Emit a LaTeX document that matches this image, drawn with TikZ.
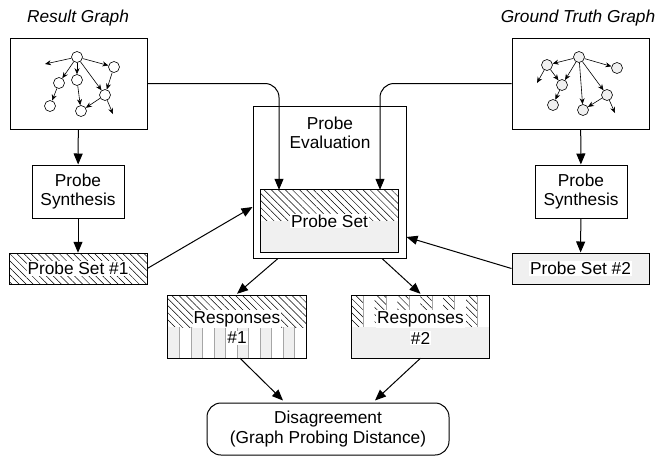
\documentclass[tikz,border=0pt]{standalone}
\usepackage{fontspec}
\setmainfont{Liberation Sans}
\usetikzlibrary{arrows.meta,patterns.meta}
\begin{document}
\begin{tikzpicture}[x=1pt,y=-1pt,
  font=\fontsize{17.3}{19.5}\selectfont,
  box/.style={draw, line width=1pt, inner sep=0pt, align=center},
  arr/.style={line width=1pt, -{Triangle[length=11pt,width=9pt]}},
  hatch/.style={pattern={Lines[angle=-45,distance=5pt,line width=0.5pt]}},
  lightfill/.style={fill=gray!12},
  lbl/.style={fill=white, inner sep=1pt, align=center},
  gnode/.style={circle, draw, line width=0.6pt, minimum size=11pt, inner sep=0pt},
  gnodeg/.style={gnode, fill=gray!12},
  gedge/.style={line width=0.6pt, -{Stealth[length=6pt,width=5pt]}},
  title/.style={font=\fontsize{17.3}{19.5}\selectfont\itshape},
]
\useasboundingbox (0,0) rectangle (661,456);

% titles
\node[title] (t1) at (78,18) {Result Graph};
\node[title] (t2) at (578,18) {Ground Truth Graph};

% graph boxes
\node[box, minimum width=137pt, minimum height=91pt] (lg) at (78.5,83.5) {};
\node[box, minimum width=137pt, minimum height=91pt] (rg) at (580.5,83.5) {};

% left graph
\node[gnode] (l0) at (77,57) {};
\node[gnode] (lA) at (114,67) {};
\node[gnode] (lB) at (59,83) {};
\node[gnode] (lC) at (77,80) {};
\node[gnode] (lD) at (105,95) {};
\node[gnode] (lE) at (50,106) {};
\node[gnode] (lF) at (81,111) {};
\coordinate (lf1) at (45,64);
\coordinate (lf2) at (113,114);
\draw[gedge] (l0) -- (lf1);
\draw[gedge] (l0) -- (lA);
\draw[gedge] (l0) -- (lB);
\draw[gedge] (l0) -- (lC);
\draw[gedge] (l0) -- (lD);
\draw[gedge] (lA) -- (lD);
\draw[gedge] (lB) -- (lE);
\draw[gedge] (lC) -- (lF);
\draw[gedge] (lD) -- (lF);
\draw[gedge] (lD) -- (lf2);

% right graph
\node[gnodeg] (r0) at (579,57) {};
\node[gnodeg] (rA) at (547,65) {};
\node[gnodeg] (rB) at (617,68) {};
\node[gnodeg] (rC) at (562,85) {};
\node[gnodeg] (rD) at (607,95) {};
\node[gnodeg] (rE) at (553,105) {};
\node[gnodeg] (rF) at (583,110) {};
\coordinate (rf1) at (537,83);
\coordinate (rf2) at (615,113);
\draw[gedge] (r0) -- (rA);
\draw[gedge] (r0) -- (rB);
\draw[gedge] (r0) -- (rC);
\draw[gedge] (r0) -- (rF);
\draw[gedge] (r0) -- (rD);
\draw[gedge] (rA) -- (rC);
\draw[gedge] (rA) -- (rf1);
\draw[gedge] (rC) -- (rE);
\draw[gedge] (rD) -- (rF);
\draw[gedge] (rD) -- (rf2);

% probe synthesis
\node[box, minimum width=92pt, minimum height=53pt] (ls) at (78,191.5) {Probe\\Synthesis};
\node[box, minimum width=92pt, minimum height=53pt] (rs) at (581,191.5) {Probe\\Synthesis};

% probe sets 1 and 2
\node[box, hatch, minimum width=138pt, minimum height=31pt] (ps1) at (78,268.5) {};
\node[lbl] at (ps1.center) {Probe Set \#1};
\node[box, lightfill, minimum width=137pt, minimum height=31pt] (ps2) at (580.5,268.5) {};
\node[lbl] at (ps2.center) {Probe Set \#2};

% probe evaluation
\node[box, minimum width=153pt, minimum height=152pt] (pe) at (329.5,182) {};
\node[align=center] (pet) at (330,133) {Probe\\Evaluation};
\node[minimum width=137pt, minimum height=62pt, inner sep=0pt] (ps) at (329.5,221) {};
\fill[hatch] (ps.north west) rectangle (ps.east);
\fill[lightfill] (ps.west) rectangle (ps.south east);
\draw[line width=1pt] (ps.north west) rectangle (ps.south east);
\node[lbl] at (ps.center) {Probe Set};

% responses 1
\node[minimum width=138pt, minimum height=62pt, inner sep=0pt] (r1) at (237,327) {};
\fill[hatch] (r1.north west) rectangle (r1.east);
\foreach \i in {0,2,...,10} {
  \fill[lightfill] ([xshift=\i*11.5pt]r1.west) rectangle ([xshift=\i*11.5pt+11.5pt]r1.south west);
}
\foreach \i in {1,...,11} {
  \draw[line width=0.4pt, gray!70] ([xshift=\i*11.5pt]r1.west) -- ([xshift=\i*11.5pt]r1.south west);
}
\draw[line width=1pt] (r1.north west) rectangle (r1.south east);
\node[lbl] at (237,319) {Responses};
\node[lbl] at (237,338) {\#1};

% responses 2
\node[minimum width=137pt, minimum height=62pt, inner sep=0pt] (r2) at (420.5,327) {};
\foreach \i in {0,2,...,10} {
  \fill[hatch] ([xshift=\i*11.42pt]r2.north west) rectangle ([xshift=\i*11.42pt+11.42pt]r2.west);
  \draw[line width=0.4pt, gray!70] ([xshift=\i*11.42pt+11.42pt]r2.north west) -- ([xshift=\i*11.42pt+11.42pt]r2.west);
}
\fill[lightfill] (r2.west) rectangle (r2.south east);
\draw[line width=1pt] (r2.north west) rectangle (r2.south east);
\node[lbl] at (420.5,319) {Responses};
\node[lbl] at (420.5,338) {\#2};

% disagreement
\node[box, rounded corners=14pt, minimum width=242pt, minimum height=52pt] (dis) at (328,429) {Disagreement\\(Graph Probing Distance)};

% connectors
\draw[arr] (lg) -- (ls);
\draw[arr] (ls) -- (ps1);
\draw[arr] (rg) -- (rs);
\draw[arr] (rs) -- (ps2);
\draw[arr, rounded corners=14pt] (lg.east) -| ([xshift=-50.5pt]ps.north);
\draw[arr, rounded corners=14pt] (rg.west) -| ([xshift=50.5pt]ps.north);
\draw[arr] (ps1.east) -- (pe.west |- 0,207);
\draw[arr] (ps2.west) -- (pe.east |- 0,237);
\draw[arr] (pe.south -| 278,0) -- ([yshift=2pt]r1.north);
\draw[arr] (pe.south -| 382,0) -- ([yshift=2pt]r2.north);
\draw[arr] ([xshift=3pt]r1.south) -- ([yshift=2pt]dis.north -| 283,0);
\draw[arr] (r2.south) -- ([yshift=2pt]dis.north -| 375,0);
\end{tikzpicture}
\end{document}
